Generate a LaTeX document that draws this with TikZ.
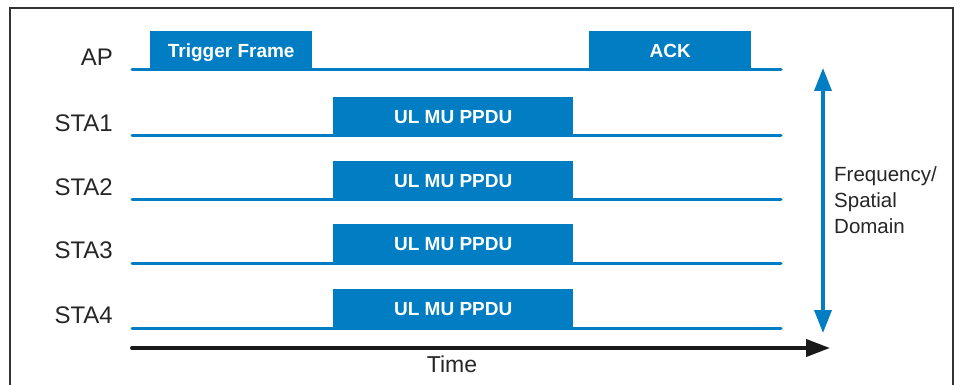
\documentclass[tikz,border=0pt]{standalone}
\usepackage{fontspec}
\setmainfont{Liberation Sans}
\usetikzlibrary{arrows.meta}
\definecolor{wifiblue}{RGB}{0,125,195}

\begin{document}
\begin{tikzpicture}[x=1pt,y=-1pt,
     burst/.style={fill=wifiblue,draw=none,inner sep=0pt,minimum height=39pt,text height=14pt,text depth=0pt,text=white,font=\bfseries\fontsize{19}{22}\selectfont},
     lane/.style={draw=wifiblue,line width=3pt,line cap=round},
     sta/.style={anchor=east,inner sep=0pt,text=black!85,font=\fontsize{24}{27}\selectfont}
     ]
\useasboundingbox (0,0) rectangle (959,385);
%Outer frame, its bottom edge lies below the picture
\draw[black!80,line width=2pt] (10,385) -- (10,8) -- (953,8) -- (953,385);

%Start and end of the timelines
\def \xmin{132}
\def \xmax{781}

%Start and width of the uplink bursts
\def \ulx{333}
\def \ulw{240}

\foreach [count=\i] \k/\y in {AP/70,STA1/136,STA2/200,STA3/263,STA4/328}
   {
\node[sta] (n\i) at (113,\y-13) {\k};
\coordinate (s\i) at (\xmin,\y);
\coordinate (e\i) at (\xmax,\y);
   }

%Downlink frames of the AP
\node[burst,minimum width=162pt,anchor=south west] (trig) at (150,70) {Trigger Frame};
\node[burst,minimum width=162pt,anchor=south west] (ack) at (589,70) {ACK};

%Uplink bursts of the stations
\foreach \i/\y in {2/136,3/200,4/263,5/328}
   \node[burst,minimum width=\ulw pt,anchor=south west] (ul\i) at (\ulx,\y) {UL MU PPDU};

\foreach \i in {1,...,5}
   \draw[lane] (s\i) -- (e\i);

%Time axis
\coordinate (t0) at (\xmin,348);
\coordinate (t1) at (830,348);
\draw[black!90,line width=4pt,line cap=round,-{Triangle[width=17pt,length=24pt]}] (t0) -- (t1);
\node[font=\fontsize{23}{26}\selectfont,text=black!85] (time) at (452,364) {Time};

%Frequency axis
\coordinate (f0) at (823,68);
\coordinate (f1) at (823,333);
\draw[wifiblue,line width=3.5pt,{Triangle[width=17pt,length=23pt]}-{Triangle[width=17pt,length=23pt]}] (f0) -- (f1);
\node[anchor=west,align=left,inner sep=0pt,text=black!85,font=\fontsize{20.5}{26}\selectfont] (dom) at (834,200) {Frequency/\\Spatial\\Domain};
\end{tikzpicture}
\end{document}
